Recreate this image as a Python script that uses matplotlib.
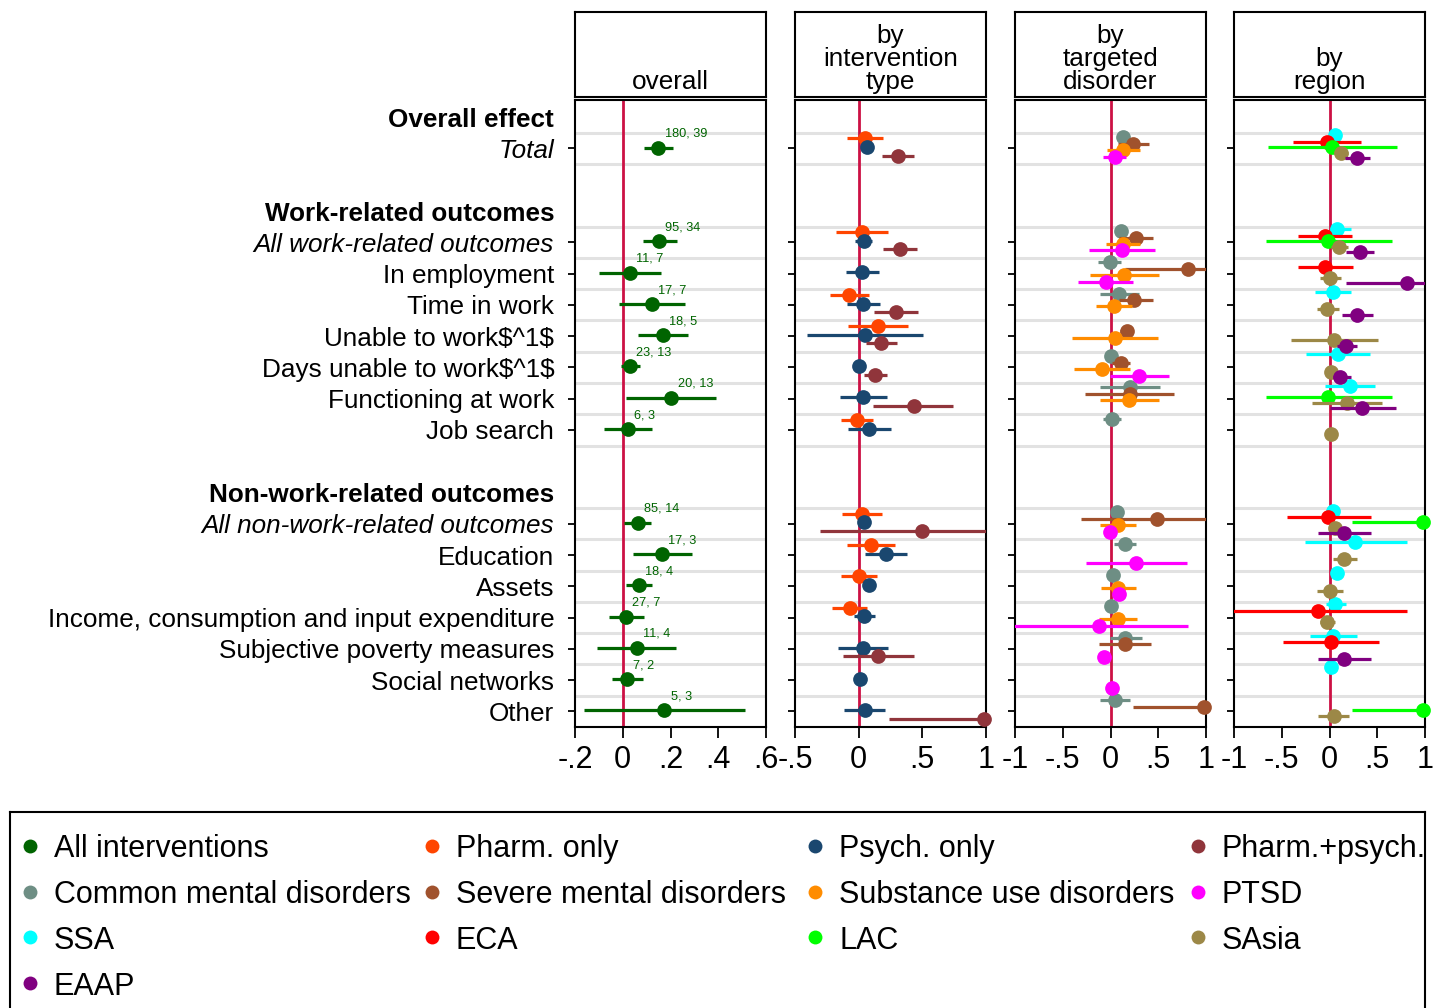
import numpy as np
import matplotlib
matplotlib.use("Agg")
import matplotlib.pyplot as plt

plt.rcParams['font.family'] = ['Liberation Sans', 'DejaVu Sans']

nan = np.nan

# ---------------- data ----------------
row_labels = ["Overall effect", "Total", "",
              "Work-related outcomes", "All work-related outcomes", "In employment",
              "Time in work", "Unable to work\\$^1\\$", "Days unable to work\\$^1\\$",
              "Functioning at work", "Job search", "",
              "Non-work-related outcomes", "All non-work-related outcomes", "Education",
              "Assets", "Income, consumption and input expenditure",
              "Subjective poverty measures", "Social networks", "Other"]
heading_rows = [0, 3, 12]
italic_rows = [1, 4, 13]
outcome_rows = np.array([1, 4, 5, 6, 7, 8, 9, 10, 13, 14, 15, 16, 17, 18, 19])

panel_titles = ["overall", "by\nintervention\ntype", "by\ntargeted\ndisorder", "by\nregion"]

# overall effect (all interventions)
all_est = [0.149, 0.152, 0.029, 0.123, 0.169, 0.031, 0.204, 0.022, 0.064, 0.164, 0.067, 0.014, 0.059, 0.017, 0.174]
all_lo = [0.089, 0.085, -0.099, -0.015, 0.064, -0.008, 0.014, -0.077, 0.006, 0.042, 0.013, -0.057, -0.106, -0.047, -0.164]
all_hi = [0.212, 0.226, 0.160, 0.261, 0.275, 0.071, 0.392, 0.121, 0.120, 0.289, 0.121, 0.087, 0.223, 0.084, 0.512]
all_n = ["180, 39", "95, 34", "11, 7", "17, 7", "18, 5", "23, 13", "20, 13", "6, 3",
         "85, 14", "17, 3", "18, 4", "27, 7", "11, 4", "7, 2", "5, 3"]

# by intervention type
pharm_est = [0.047, 0.024, nan, -0.073, 0.155, nan, nan, -0.013, 0.024, 0.097, 0.003, -0.071, nan, nan, nan]
pharm_lo = [-0.094, -0.181, nan, -0.225, -0.081, nan, nan, -0.139, -0.134, -0.089, -0.136, -0.207, nan, nan, nan]
pharm_hi = [0.194, 0.233, nan, 0.079, 0.390, nan, nan, 0.112, 0.181, 0.283, 0.147, 0.068, nan, nan, nan]
psych_est = [0.063, 0.039, 0.029, 0.037, 0.050, 0.003, 0.037, 0.084, 0.045, 0.217, 0.079, 0.042, 0.031, 0.013, 0.047]
psych_lo = [0.020, -0.029, -0.102, -0.089, -0.403, -0.020, -0.147, -0.084, 0.015, 0.052, 0.045, -0.037, -0.165, -0.020, -0.115]
psych_hi = [0.105, 0.105, 0.160, 0.168, 0.508, 0.030, 0.220, 0.251, 0.075, 0.382, 0.110, 0.131, 0.233, 0.045, 0.207]
combo_est = [0.306, 0.322, nan, 0.293, 0.178, 0.128, 0.432, nan, 0.495, nan, nan, nan, 0.152, nan, 0.984]
combo_lo = [0.181, 0.189, nan, 0.123, 0.058, 0.042, 0.113, nan, -0.304, nan, nan, nan, -0.123, nan, 0.236]
combo_hi = [0.435, 0.461, nan, 0.466, 0.304, 0.220, 0.744, nan, 1.300, nan, nan, nan, 0.432, nan, 1.300]

# by targeted disorder
cmd_est = [0.129, 0.105, -0.010, 0.087, nan, 0.010, 0.202, 0.017, 0.070, 0.154, 0.021, 0.000, 0.157, nan, 0.042]
cmd_lo = [0.090, 0.070, -0.126, -0.112, nan, -0.030, -0.112, -0.080, 0.030, 0.040, -0.030, -0.030, -0.007, nan, -0.112]
cmd_hi = [0.170, 0.140, 0.112, 0.297, nan, 0.050, 0.520, 0.115, 0.110, 0.270, 0.070, 0.030, 0.328, nan, 0.202]
smd_est = [0.237, 0.262, 0.813, 0.244, 0.168, 0.105, 0.202, nan, 0.489, nan, nan, nan, 0.150, nan, 0.977]
smd_lo = [0.080, 0.090, 0.157, 0.087, 0.100, 0.017, -0.262, nan, -0.307, nan, nan, nan, -0.122, nan, 0.237]
smd_hi = [0.400, 0.447, 1.300, 0.443, 0.240, 0.209, 0.670, nan, 1.300, nan, nan, nan, 0.429, nan, 1.300]
sud_est = [0.136, 0.129, 0.143, 0.035, 0.049, -0.091, 0.196, nan, 0.077, nan, 0.080, 0.077, nan, nan, nan]
sud_lo = [-0.035, -0.052, -0.216, -0.154, -0.408, -0.387, -0.115, nan, -0.112, nan, -0.098, -0.122, nan, nan, nan]
sud_hi = [0.307, 0.304, 0.510, 0.227, 0.499, 0.209, 0.513, nan, 0.272, nan, 0.262, 0.279, nan, nan, nan]
ptsd_est = [0.042, 0.119, -0.052, nan, nan, 0.297, nan, nan, -0.007, 0.269, 0.091, -0.122, -0.073, 0.014, nan]
ptsd_lo = [-0.080, -0.223, -0.339, nan, nan, -0.007, nan, nan, -0.040, -0.258, 0.060, -1.300, -0.100, -0.010, nan]
ptsd_hi = [0.164, 0.461, 0.237, nan, nan, 0.611, nan, nan, 0.030, 0.803, 0.120, 0.810, -0.040, 0.040, nan]

# by region
ssa_est = [0.054, 0.082, nan, 0.040, nan, 0.086, 0.211, nan, 0.040, 0.267, 0.075, 0.061, 0.040, 0.016, nan]
ssa_lo = [0.000, 0.005, nan, -0.148, nan, -0.246, -0.047, nan, 0.010, -0.260, 0.045, -0.037, -0.204, -0.010, nan]
ssa_hi = [0.100, 0.225, nan, 0.229, nan, 0.428, 0.476, nan, 0.070, 0.808, 0.105, 0.173, 0.284, 0.040, nan]
eca_est = [-0.030, -0.051, -0.051, nan, nan, nan, nan, nan, -0.019, nan, nan, -0.120, 0.019, nan, nan]
eca_lo = [-0.379, -0.333, -0.333, nan, nan, nan, nan, nan, -0.448, nan, nan, -1.300, -0.483, nan, nan]
eca_hi = [0.330, 0.239, 0.243, nan, nan, nan, nan, nan, 0.431, nan, nan, 0.808, 0.522, nan, nan]
lac_est = [0.023, -0.012, nan, nan, nan, nan, -0.012, nan, 0.976, nan, nan, nan, nan, nan, 0.976]
lac_lo = [-0.647, -0.668, nan, nan, nan, nan, -0.668, nan, 0.239, nan, nan, nan, nan, nan, 0.239]
lac_hi = [0.710, 0.651, nan, nan, nan, nan, 0.651, nan, 1.300, nan, nan, nan, nan, nan, 1.300]
sasia_est = [0.120, 0.103, 0.005, -0.023, 0.051, 0.016, 0.180, 0.019, 0.058, 0.155, 0.005, -0.023, nan, nan, 0.044]
sasia_lo = [0.050, 0.020, -0.100, -0.134, -0.403, -0.040, -0.180, -0.020, 0.020, 0.034, -0.134, -0.100, nan, nan, -0.117]
sasia_hi = [0.190, 0.190, 0.120, 0.103, 0.504, 0.080, 0.546, 0.060, 0.100, 0.284, 0.145, 0.060, nan, nan, 0.204]
eaap_est = [0.291, 0.319, 0.815, 0.291, 0.169, 0.110, 0.344, nan, 0.152, nan, nan, nan, 0.152, nan, nan]
eaap_lo = [0.162, 0.173, 0.169, 0.127, 0.075, 0.040, 0.005, nan, -0.124, nan, nan, nan, -0.124, nan, nan]
eaap_hi = [0.424, 0.469, 1.300, 0.459, 0.284, 0.220, 0.693, nan, 0.435, nan, nan, nan, 0.435, nan, nan]

series_names = ["All interventions", "Pharm. only", "Psych. only", "Pharm.+psych.",
                "Common mental disorders", "Severe mental disorders", "Substance use disorders", "PTSD",
                "SSA", "ECA", "LAC", "SAsia", "EAAP"]
series_colors = ["#006400", "#ff4500", "#1a476f", "#90353b",
                 "#6e8e84", "#a0522d", "#ff8c00", "#ff00ff",
                 "#00ffff", "#ff0000", "#00ff00", "#9c8847", "#800080"]

panel_series = [
    [(all_est, all_lo, all_hi)],
    [(pharm_est, pharm_lo, pharm_hi), (psych_est, psych_lo, psych_hi), (combo_est, combo_lo, combo_hi)],
    [(cmd_est, cmd_lo, cmd_hi), (smd_est, smd_lo, smd_hi), (sud_est, sud_lo, sud_hi), (ptsd_est, ptsd_lo, ptsd_hi)],
    [(ssa_est, ssa_lo, ssa_hi), (eca_est, eca_lo, eca_hi), (lac_est, lac_lo, lac_hi),
     (sasia_est, sasia_lo, sasia_hi), (eaap_est, eaap_lo, eaap_hi)],
]
panel_colors = [series_colors[0:1], series_colors[1:4], series_colors[4:8], series_colors[8:13]]

panel_xticks = [[-0.2, 0, 0.2, 0.4, 0.6], [-0.5, 0, 0.5, 1], [-1, -0.5, 0, 0.5, 1], [-1, -0.5, 0, 0.5, 1]]
panel_xticklabels = [["-.2", "0", ".2", ".4", ".6"], ["-.5", "0", ".5", "1"],
                     ["-1", "-.5", "0", ".5", "1"], ["-1", "-.5", "0", ".5", "1"]]

# ---------------- layout ----------------
W, H = 1433, 1008
fig = plt.figure(figsize=(W / 100, H / 100), dpi=100)


def px_rect(x0, y0, x1, y1):
    return [x0 / W, 1 - y1 / H, (x1 - x0) / W, (y1 - y0) / H]


panel_px = [(575, 766), (795, 986), (1015, 1206), (1234, 1425)]
panel_offsets = [[-0.03], [-0.32, -0.04, 0.23], [-0.36, -0.15, 0.05, 0.26],
                 [-0.42, -0.21, -0.04, 0.14, 0.31]]

sep_rows = np.concatenate([outcome_rows - 0.5, outcome_rows + 0.5])
tick_rows = [i for i, lab in enumerate(row_labels) if lab]
RED = "#cc1144"
GRID = "#e2e2e2"

for p, (x0, x1) in enumerate(panel_px):
    ax = fig.add_axes(px_rect(x0, 100, x1, 727))
    ticks = panel_xticks[p]
    ax.set_xlim(ticks[0], ticks[-1])
    ax.set_ylim(19.5, -0.55)
    for r in np.unique(sep_rows):
        ax.axhline(r, color=GRID, lw=2.2, zorder=0)
    ax.axvline(0, color=RED, lw=2.0, zorder=1)

    for k, ((est, lo, hi), col) in enumerate(zip(panel_series[p], panel_colors[p])):
        y = outcome_rows + panel_offsets[p][k]
        ax.hlines(y, lo, hi, color=col, lw=2.3, zorder=2 + 2 * k)
        ax.plot(est, y, "o", ms=10.6, mew=0, color=col, zorder=3 + 2 * k, clip_on=False)

    if p == 0:
        for e, yy, lab in zip(all_est, outcome_rows + panel_offsets[0][0], all_n):
            ax.annotate(lab, (e, yy), xytext=(4.5, 10), textcoords="offset points",
                        fontsize=9.2, color=series_colors[0], ha="left", va="center")

    ax.set_xticks(ticks)
    ax.set_xticklabels(panel_xticklabels[p])
    ax.set_yticks(tick_rows)
    if p == 0:
        ax.set_yticklabels([row_labels[i] for i in tick_rows])
        for i, tl in zip(tick_rows, ax.get_yticklabels()):
            if i in heading_rows:
                tl.set_fontweight("bold")
            elif i in italic_rows:
                tl.set_fontstyle("italic")
    else:
        ax.set_yticklabels([])
    for i, t in zip(tick_rows, ax.yaxis.get_major_ticks()):
        if i in heading_rows:
            t.tick1line.set_visible(False)

    ax.tick_params(axis="x", direction="out", length=8, width=1.3, labelsize=22, pad=5)
    ax.tick_params(axis="y", direction="out", length=5, width=1.3, labelsize=18.8, pad=10)
    for s in ax.spines.values():
        s.set_linewidth(1.5)
        s.set_color("black")

    # panel header box
    axt = fig.add_axes(px_rect(x0, 12, x1, 97))
    axt.set_xticks([])
    axt.set_yticks([])
    for s in axt.spines.values():
        s.set_linewidth(1.5)
    axt.text(0.5, 0.04, panel_titles[p], ha="center", va="bottom", fontsize=18.8,
             linespacing=0.95, transform=axt.transAxes)

# ---------------- legend ----------------
axl = fig.add_axes(px_rect(10, 812, 1425, 1020))
axl.set_xlim(10, 1425)
axl.set_ylim(1020, 812)
axl.set_xticks([])
axl.set_yticks([])
for s in axl.spines.values():
    s.set_linewidth(1.5)
axl.spines["bottom"].set_visible(False)

col_x = [30, 432, 815, 1198]
row_y0, row_dy = 846, 45.7
for idx, (name, col) in enumerate(zip(series_names, series_colors)):
    r, c = divmod(idx, 4)
    yy = row_y0 + r * row_dy
    axl.plot(col_x[c], yy, "o", ms=10, mew=0, color=col)
    axl.text(col_x[c] + 24, yy, name, fontsize=22, va="center_baseline", ha="left")

fig.savefig("out.png", dpi=100)
